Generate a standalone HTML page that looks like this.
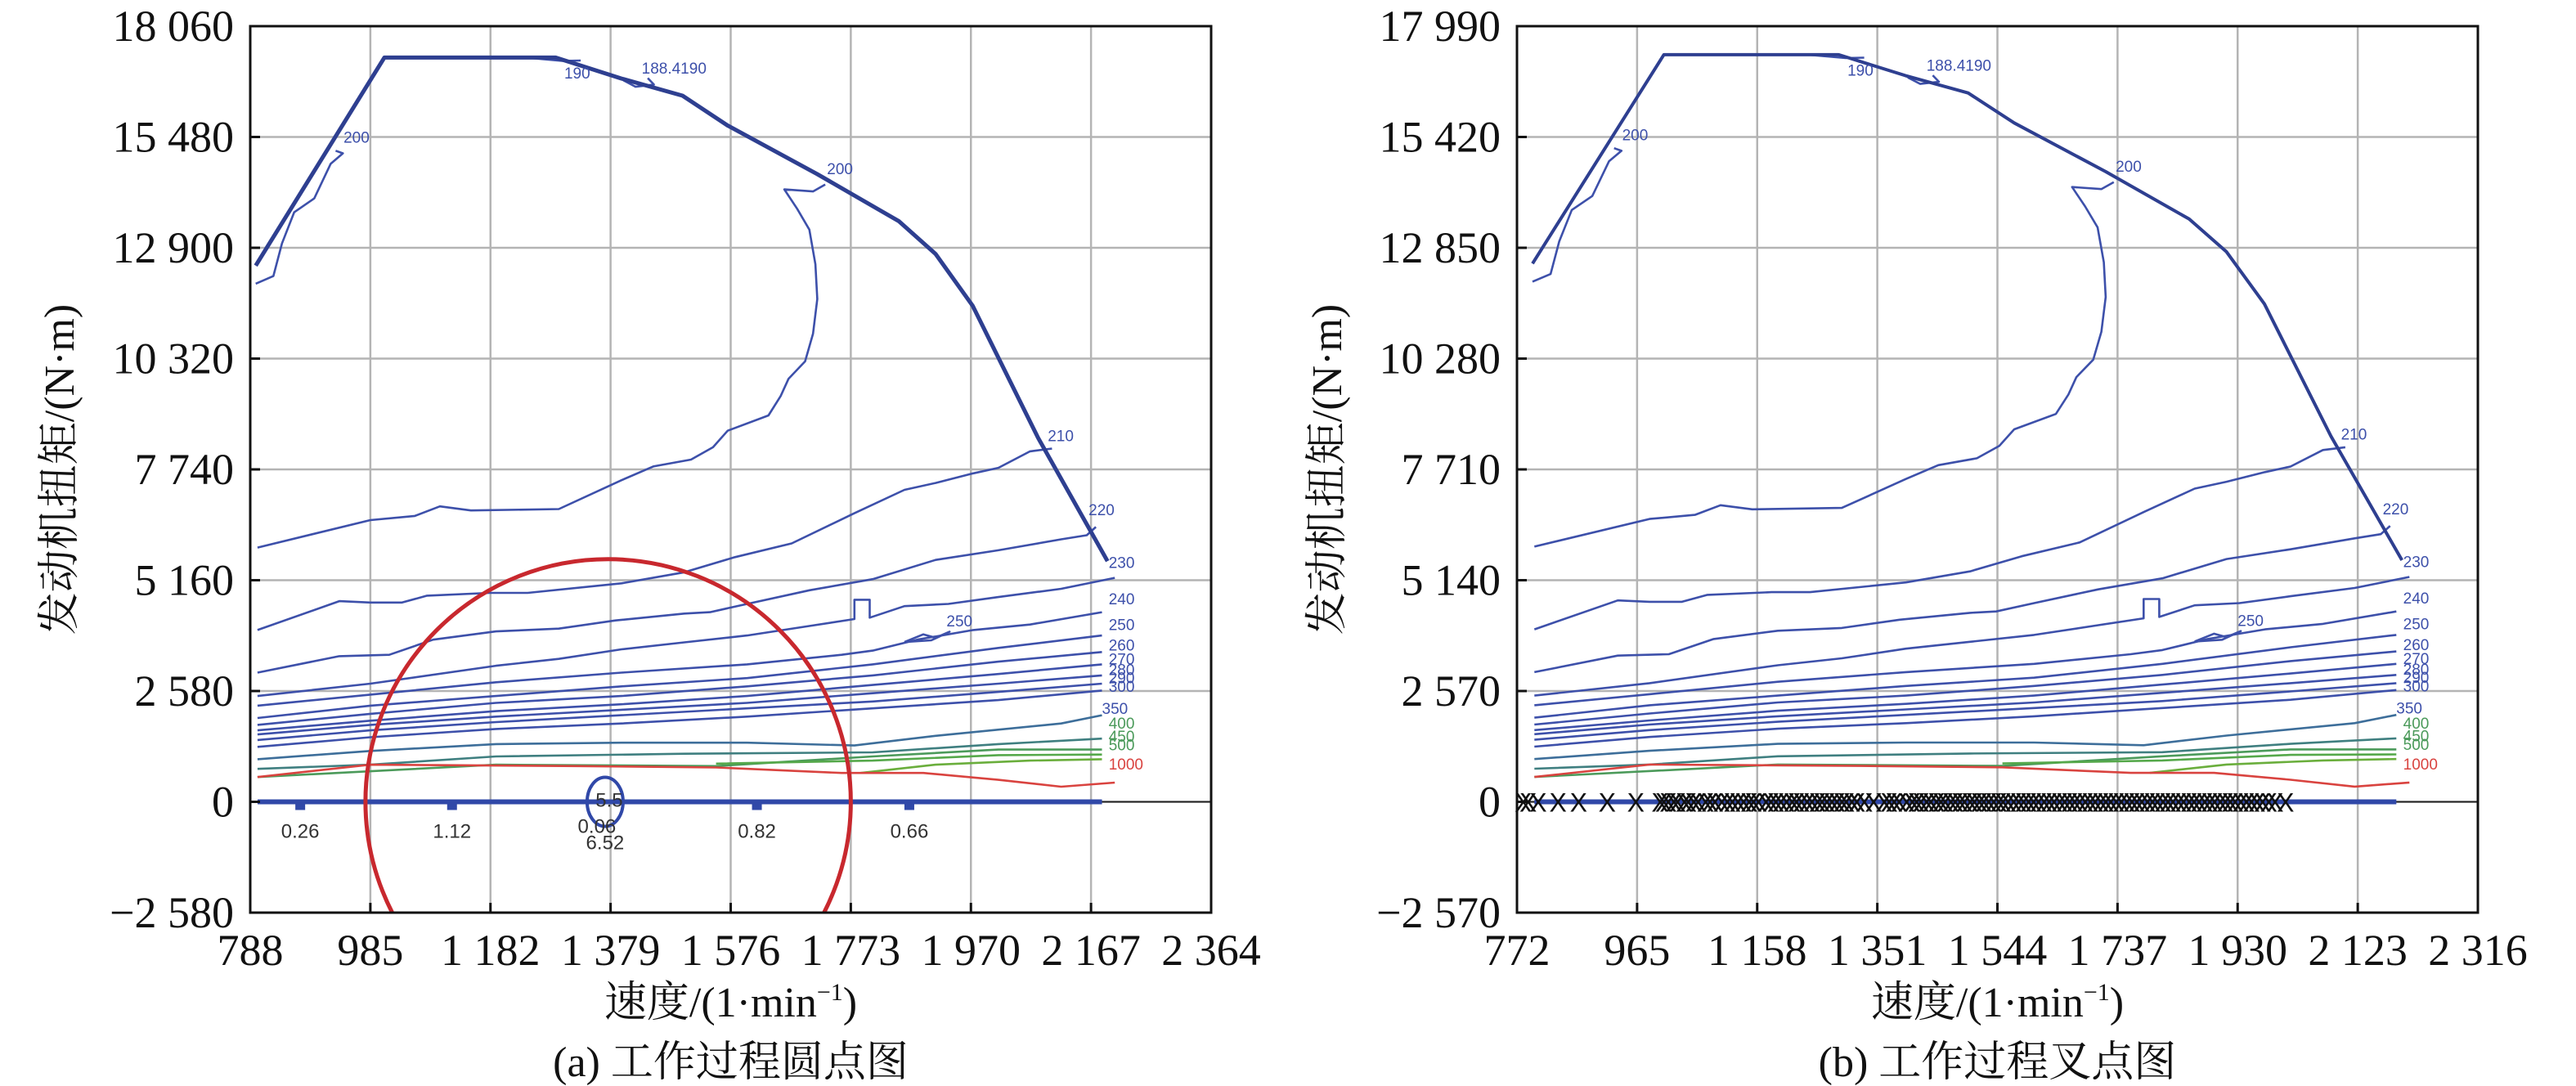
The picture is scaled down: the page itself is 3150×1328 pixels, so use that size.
<!DOCTYPE html>
<html><head><meta charset="utf-8">
<style>
html,body{margin:0;padding:0;background:#fff;}
svg{display:block;}
text{font-family:"Liberation Serif","Noto Serif CJK SC","Noto Sans CJK SC",serif;}
.sm{font-family:"Liberation Sans","DejaVu Sans",sans-serif;}
</style></head>
<body>
<svg id="root" width="3150" height="1328" viewBox="0 0 3150 1328" xmlns="http://www.w3.org/2000/svg">
<rect width="3150" height="1328" fill="#fff"/>
</svg>
<script>
const NS = "http://www.w3.org/2000/svg";
// ---- data ----
const xTicksA = [788,985,1182,1379,1576,1773,1970,2167,2364];
const xLabelsA = ["788","985","1 182","1 379","1 576","1 773","1 970","2 167","2 364"];
const yTicksA = [-2580,0,2580,5160,7740,10320,12900,15480,18060];
const yLabelsA = ["\u22122 580","0","2 580","5 160","7 740","10 320","12 900","15 480","18 060"];
const xTicksB = [772,965,1158,1351,1544,1737,1930,2123,2316];
const xLabelsB = ["772","965","1 158","1 351","1 544","1 737","1 930","2 123","2 316"];
const yTicksB = [-2570,0,2570,5140,7710,10280,12850,15420,17990];
const yLabelsB = ["\u22122 570","0","2 570","5 140","7 710","10 280","12 850","15 420","17 990"];

const envelope = [[797,12484],[1008,17329],[1289,17329],[1396,16844],[1497,16441],[1571,15746],[1718,14616],[1852,13517],[1912,12758],[1973,11547],[2080,8479],[2194,5604]];
const c190 = [[1240,17329],[1300,17250],[1330,17260]];
const c190b = [[1400,16800],[1420,16650],[1450,16700],[1440,16850]];
const c200a = [[797,12064],[826,12242],[840,13000],[860,13727],[893,14050],[920,14858],[940,15100],[928,15160]];
const c200 = [[800,5920],[985,6560],[1058,6656],[1099,6880],[1150,6784],[1294,6816],[1397,7488],[1449,7808],[1511,7968],[1547,8256],[1571,8640],[1638,8996],[1658,9448],[1671,9851],[1698,10255],[1711,10901],[1718,11709],[1715,12516],[1705,13323],[1685,13808],[1664,14260],[1711,14212],[1731,14373]];
const c210 = [[800,4000],[934,4672],[985,4640],[1037,4640],[1078,4800],[1181,4864],[1243,4864],[1397,5088],[1500,5344],[1583,5696],[1676,6016],[1779,6720],[1861,7264],[1912,7424],[1974,7648],[2015,7776],[2067,8160],[2103,8224]];
const c220 = [[800,3008],[934,3392],[1016,3424],[1088,3776],[1191,3968],[1294,4032],[1387,4224],[1500,4384],[1542,4416],[1603,4608],[1706,4928],[1809,5184],[1912,5632],[2015,5856],[2118,6112],[2160,6208],[2175,6400]];
const c230 = [[800,2464],[985,2752],[1191,3168],[1294,3328],[1397,3552],[1500,3712],[1603,3872],[1706,4096],[1779,4256],[1779,4704],[1804,4704],[1804,4288],[1861,4557],[1933,4608],[2015,4768],[2118,4960],[2206,5216]];
const c240 = [[800,2240],[985,2496],[1191,2784],[1397,3008],[1603,3200],[1758,3424],[1809,3520],[1882,3776],[1974,4000],[2067,4128],[2185,4416]];
const c250i = [[1861,3720],[1892,3900],[1912,3820],[1935,3960],[1905,3760],[1861,3720]];
const c250 = [[800,1952],[985,2240],[1191,2464],[1397,2688],[1603,2880],[1809,3200],[2015,3584],[2185,3872]];
const c260 = [[800,1792],[985,2048],[1191,2304],[1397,2464],[1603,2688],[1809,2944],[2015,3264],[2185,3488]];
const c270 = [[800,1664],[985,1888],[1191,2112],[1397,2272],[1603,2464],[1809,2720],[2015,2976],[2185,3200]];
const c280 = [[800,1568],[985,1792],[1191,1984],[1397,2144],[1603,2304],[1809,2528],[2015,2752],[2185,2944]];
const c290 = [[800,1440],[985,1664],[1191,1856],[1397,2016],[1603,2176],[1809,2336],[2015,2560],[2185,2752]];
const c300 = [[800,1280],[985,1504],[1191,1696],[1397,1824],[1603,1984],[1809,2176],[2015,2368],[2185,2592]];
const c350 = [[800,992],[985,1184],[1191,1344],[1397,1376],[1603,1376],[1779,1312],[1912,1536],[2118,1824],[2185,2016]];
const c400 = [[800,768],[985,864],[1191,1056],[1500,1120],[1809,1152],[2015,1344],[2185,1472]];
const c450 = [[800,576],[1191,864],[1552,832],[1809,1056],[2015,1216],[2185,1216]];
const c500 = [[1552,890],[1809,960],[2015,1088],[2185,1100]];
const c700 = [[1789,672],[1912,864],[2067,960],[2185,992]];
const c1000 = [[800,576],[985,864],[1325,832],[1552,800],[1758,672],[1892,672],[2015,512],[2118,352],[2206,448]];
const contourValues = ["190","190","200","200","210","220","230","240","250","250","260","270","280","290","300","350","400","450","500","700","1000"];

const dotSpeeds = [870,1119,1619,1869];
const dotLabels = ["0.26","1.12","0.82","0.66"];
const ellipseSpeed = [1370];
const ellipseLabels = ["0.06","6.52","5.5"];
const circleCenter = [1375,0];
const circleRadiusSpeed = [398];

const crossSpeeds = [782,790,806,838,871,917,963,1002,1008,1015,1024,1030,1041,1047,1056,1063,1075,1082,1090,1101,1110,1118,1127,1136,1145,1152,1160,1172,1180,1188,1196,1205,1214,1221,1229,1238,1246,1255,1262,1270,1278,1286,1294,1301,1310,1318,1330,1345,1362,1370,1378,1386,1398,1407,1414,1421,1430,1437,1446,1453,1460,1469,1476,1484,1491,1500,1507,1515,1522,1530,1538,1546,1553,1561,1570,1578,1586,1594,1602,1610,1619,1627,1635,1644,1652,1660,1668,1676,1685,1693,1701,1710,1718,1726,1735,1743,1752,1760,1768,1776,1785,1793,1801,1810,1818,1826,1835,1843,1852,1860,1868,1877,1885,1893,1902,1910,1918,1926,1935,1944,1952,1961,1970,1980,1990,2007];

function el(tag, attrs, parent){const e=document.createElementNS(NS,tag);for(const k in attrs)e.setAttribute(k,attrs[k]);parent.appendChild(e);return e;}

function chart(cfg){
  const root=document.getElementById('root');
  const g=el('g',{},root);
  
  
  const X=v=>cfg.L+(v-cfg.x0)/(cfg.x1-cfg.x0)*(cfg.R-cfg.L);
  const Y=v=>cfg.B-(v-cfg.y0)/(cfg.y1-cfg.y0)*(cfg.B-cfg.T);
  const clipId='clip'+cfg.id;
  const cp=el('clipPath',{id:clipId},g);
  el('rect',{x:cfg.L,y:cfg.T,width:cfg.R-cfg.L,height:cfg.B-cfg.T},cp);
  const grid=el('g',{},g);
  
  
  cfg.xt.forEach(v=>{const l=el('line',{x1:X(v),x2:X(v),y1:cfg.T,y2:cfg.B,stroke:'#b4b4b4','stroke-width':2.5},grid);
    });
  cfg.yt.forEach(v=>{const l=el('line',{x1:cfg.L,x2:cfg.R,y1:Y(v),y2:Y(v),stroke:'#b4b4b4','stroke-width':2.5},grid);
    });
  el('line',{x1:cfg.L,x2:cfg.R,y1:Y(0),y2:Y(0),stroke:'#222','stroke-width':2},grid);
  const plot=el('g',{'clip-path':'url(#'+clipId+')'},g);
  
  
  const line=(pts,color,w,name)=>{const p=el('polyline',{points:pts.map(q=>X(q[0]).toFixed(1)+','+Y(q[1]).toFixed(1)).join(' '),fill:'none',stroke:color,'stroke-width':w,'stroke-linejoin':'round'},plot);
    return p;};
  const blue='#3d50aa';
  const contours=[[c190,blue],[c190b,blue],[c200a,blue],[c200,blue],[c210,blue],[c220,blue],[c230,blue],[c240,blue],[c250i,blue],[c250,blue],[c260,blue],[c270,blue],[c280,blue],[c290,blue],[c300,blue],[c350,'#3d6e9a'],[c400,'#3f7f80'],[c450,'#4b9a5a'],[c500,'#55a84a'],[c700,'#6aae3c'],[c1000,'#d9433f']];
  contours.forEach((c,i)=>line(c[0],c[1],2.6,'contour-'+contourValues[i]));
  line(envelope,'#2e3f90',cfg.envW,'max-torque-envelope');
  const zl=el('line',{x1:X(800),x2:X(2185),y1:Y(0),y2:Y(0),stroke:'#3048a8','stroke-width':6},plot);
  
  const labs=[[1303,16844,'190'],[1430,16957,'188.4190'],[941,15343,'200'],[1734,14616,'200'],[2096,8398,'210'],[2163,6670,'220'],[2196,5443,'230'],[2196,4600,'240'],[2196,4000,'250'],[1930,4080,'250'],[2196,3520,'260'],[2196,3200,'270'],[2196,2950,'280'],[2196,2760,'290'],[2196,2560,'300'],[2185,2050,'350'],[2196,1700,'400'],[2196,1400,'450'],[2196,1200,'500'],[2196,750,'1000']];
  labs.forEach(l=>{const t=el('text',{x:X(l[0]),y:Y(l[1]),'font-size':19,fill:l[2]==='1000'?'#d9433f':(+l[2]>=400?'#4b9a5a':'#3d50aa'),class:'sm'},g);t.textContent=l[2];
    });
  const fr=el('rect',{x:cfg.L,y:cfg.T,width:cfg.R-cfg.L,height:cfg.B-cfg.T,fill:'none',stroke:'#111','stroke-width':3},g);
  
  cfg.xt.forEach((v,i)=>{el('line',{x1:X(v),x2:X(v),y1:cfg.B,y2:cfg.B-12,stroke:'#111','stroke-width':3},g);
    const t=el('text',{x:X(v),y:cfg.B+64,'font-size':54,'text-anchor':'middle',fill:'#111'},g);t.textContent=cfg.xl[i];
    });
  cfg.yt.forEach((v,i)=>{el('line',{x1:cfg.L,x2:cfg.L+12,y1:Y(v),y2:Y(v),stroke:'#111','stroke-width':3},g);
    const t=el('text',{x:cfg.L-20,y:Y(v)+18,'font-size':54,'text-anchor':'end',fill:'#111'},g);t.textContent=cfg.yl[i];
    });
  const xt=el('text',{x:(cfg.L+cfg.R)/2,y:1243,'font-size':52,'text-anchor':'middle',fill:'#111'},g);
  xt.innerHTML='速度/(1·min<tspan dy="-20" font-size="30">−1</tspan><tspan dy="20">)</tspan>';
  
  const yt=el('text',{x:0,y:0,'font-size':52,'text-anchor':'middle',fill:'#111',transform:'translate('+cfg.ytx+',574) rotate(-90)'},g);
  yt.textContent='发动机扭矩/(N·m)';
  
  const cap=el('text',{x:(cfg.L+cfg.R)/2,y:1316,'font-size':52,'text-anchor':'middle',fill:'#111'},g);
  cap.textContent=cfg.caption;
  
  return {X,Y,plot,g};
}

const A=chart({id:'a',name:'chart-dot',x0:788,x1:2364,y0:-2580,y1:18060,L:306,R:1481,T:32,B:1116,xt:xTicksA,xl:xLabelsA,yt:yTicksA,yl:yLabelsA,ytx:90,envW:5,caption:'(a) 工作过程圆点图'});
dotSpeeds.forEach((s,i)=>{
  const r=el('rect',{x:A.X(s)-6,y:A.Y(0)-2,width:12,height:12,fill:'#3048a8'},A.plot);
  
  const t=el('text',{x:A.X(s),y:A.Y(0)+44,'font-size':24,'text-anchor':'middle',fill:'#333',class:'sm'},A.g);
  t.textContent=dotLabels[i];
  
});
ellipseSpeed.forEach(s=>{
  const e=el('ellipse',{cx:A.X(s),cy:A.Y(0),rx:22,ry:30,fill:'none',stroke:'#3048a8','stroke-width':4},A.plot);
  
  const offs=[[-10,38],[0,58],[5,6]];
  ellipseLabels.forEach((l,j)=>{const t=el('text',{x:A.X(s)+offs[j][0],y:A.Y(0)+offs[j][1],'font-size':24,'text-anchor':'middle',fill:'#333',class:'sm'},A.g);t.textContent=l;
    });
});
{
  const r=A.X(circleCenter[0]+circleRadiusSpeed[0])-A.X(circleCenter[0]);
  const c=el('circle',{cx:A.X(circleCenter[0]),cy:A.Y(circleCenter[1]),r:r,fill:'none',stroke:'#c8282e','stroke-width':5},A.plot);
  
}

const Bc=chart({id:'b',name:'chart-cross',x0:772,x1:2316,y0:-2570,y1:17990,L:1855,R:3030,T:32,B:1116,xt:xTicksB,xl:xLabelsB,yt:yTicksB,yl:yLabelsB,ytx:1640,envW:4,caption:'(b) 工作过程叉点图'});
crossSpeeds.forEach(s=>{
  const t=el('text',{x:Bc.X(s),y:Bc.Y(0)+12,'font-size':32,'text-anchor':'middle',fill:'#111',class:'sm'},Bc.g);
  t.textContent='X';
  
});
</script>
</body></html>
